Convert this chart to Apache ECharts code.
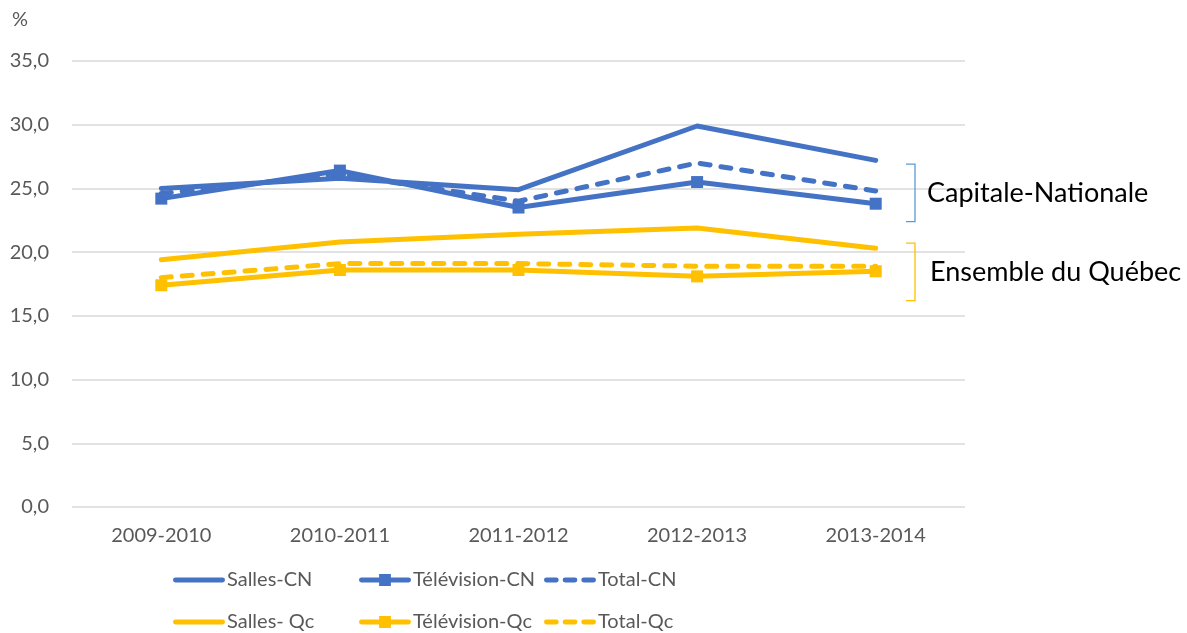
<!DOCTYPE html>
<html><head><meta charset="utf-8">
<script src="https://cdn.jsdelivr.net/npm/echarts@6/dist/echarts.min.js"></script>
<style>html,body{margin:0;padding:0;background:#fff}#c{width:1187px;height:633px}</style>
</head><body><div id="c"></div>
<script>
const categories = ['2009-2010', '2010-2011', '2011-2012', '2012-2013', '2013-2014'];
const sallesCN = [25.0, 25.8, 24.9, 29.9, 27.2];
const televisionCN = [24.2, 26.4, 23.5, 25.5, 23.8];
const totalCN = [24.6, 26.1, 24.0, 27.0, 24.8];
const sallesQc = [19.4, 20.8, 21.4, 21.9, 20.3];
const televisionQc = [17.4, 18.6, 18.6, 18.1, 18.5];
const totalQc = [18.0, 19.1, 19.1, 18.9, 18.9];
const legendRow1 = ['Salles-CN', 'Télévision-CN', 'Total-CN'];
const legendRow2 = ['Salles- Qc', 'Télévision-Qc', 'Total-Qc'];
const groupLabels = ['Capitale-Nationale', 'Ensemble du Québec'];
const groupRanges = [[22.4, 26.9], [16.2, 20.7]];

const BLUE = '#4472C4', YELLOW = '#FFC000';
const FONT = 'Lato';

function solid(name, data, color, marker) {
  return {
    name, type: 'line', data,
    symbol: marker ? 'rect' : 'none', symbolSize: 12, showSymbol: !!marker,
    itemStyle: { color },
    lineStyle: { color, width: 5, cap: 'round', join: 'round' },
    emphasis: { disabled: true }, animation: false
  };
}
function dashed(name, data, color) {
  return {
    name, type: 'line', data, symbol: 'none',
    itemStyle: { color },
    lineStyle: { color, width: 5, type: [10, 11], cap: 'round' },
    emphasis: { disabled: true }, animation: false
  };
}

// legend icons (52 x 14 box)
const ICON_LINE = 'path://M2,4.5 L50,4.5 A2.5,2.5 0 0 1 50,9.5 L2,9.5 A2.5,2.5 0 0 1 2,4.5 Z M0,0 L0.01,0 L0.01,0.01 Z M52,14 L51.99,14 L51.99,13.99 Z';
const ICON_MARK = 'path://M2,4.5 L20,4.5 L20,1 L32,1 L32,4.5 L50,4.5 A2.5,2.5 0 0 1 50,9.5 L32,9.5 L32,13 L20,13 L20,9.5 L2,9.5 A2.5,2.5 0 0 1 2,4.5 Z M0,0 L0.01,0 L0.01,0.01 Z M52,14 L51.99,14 L51.99,13.99 Z';
const ICON_DASH = 'path://M2,4.5 L12,4.5 A2.5,2.5 0 0 1 12,9.5 L2,9.5 A2.5,2.5 0 0 1 2,4.5 Z M21,4.5 L31,4.5 A2.5,2.5 0 0 1 31,9.5 L21,9.5 A2.5,2.5 0 0 1 21,4.5 Z M40,4.5 L50,4.5 A2.5,2.5 0 0 1 50,9.5 L40,9.5 A2.5,2.5 0 0 1 40,4.5 Z M0,0 L0.01,0 L0.01,0.01 Z M52,14 L51.99,14 L51.99,13.99 Z';
const icons = [ICON_LINE, ICON_MARK, ICON_DASH];
const legendLefts = [168, 354, 539];

const legends = [];
[legendRow1, legendRow2].forEach((row, r) => {
  row.forEach((name, i) => {
    legends.push({
      left: legendLefts[i], top: r ? 607 : 565,
      itemWidth: 52, itemHeight: 14, itemGap: 0,
      icon: icons[i],
      data: [{ name, icon: icons[i] }],
      textStyle: { fontFamily: FONT, fontSize: 20, color: '#595959', padding: [0, 0, 0, -3] },
      selectedMode: false
    });
  });
});

const chart = echarts.init(document.getElementById('c'));
chart.setOption({
  animation: false,
  grid: { left: 72, right: 222, top: 61, bottom: 126 },
  xAxis: {
    type: 'category', data: categories, boundaryGap: true,
    axisLine: { show: false }, axisTick: { show: false },
    axisLabel: { fontFamily: FONT, fontSize: 20, color: '#595959', margin: 19 }
  },
  yAxis: {
    type: 'value', min: 0, max: 35, interval: 5,
    axisLine: { show: false }, axisTick: { show: false },
    splitLine: { lineStyle: { color: '#d9d9d9', width: 1.5 } },
    axisLabel: {
      fontFamily: FONT, fontSize: 20, color: '#595959', margin: 23,
      formatter: v => v.toFixed(1).replace('.', ',')
    }
  },
  legend: legends,
  series: [
    solid('Salles-CN', sallesCN, BLUE, false),
    solid('Télévision-CN', televisionCN, BLUE, true),
    dashed('Total-CN', totalCN, BLUE),
    solid('Salles- Qc', sallesQc, YELLOW, false),
    solid('Télévision-Qc', televisionQc, YELLOW, true),
    dashed('Total-Qc', totalQc, YELLOW)
  ]
});

function drawAnnotations() {
  const colors = ['#5B9BD5', YELLOW];
  const elements = [{
    type: 'text', left: 12, top: 10,
    style: { text: '%', fontFamily: FONT, fontSize: 20, fill: '#595959' }
  }];
  groupRanges.forEach((r, i) => {
    const yTop = chart.convertToPixel({ yAxisIndex: 0 }, r[1]);
    const yBot = chart.convertToPixel({ yAxisIndex: 0 }, r[0]);
    const xb = 915;
    elements.push({
      type: 'polyline',
      shape: { points: [[xb - 9, yTop], [xb, yTop], [xb, yBot], [xb - 9, yBot]] },
      style: { stroke: colors[i], lineWidth: 1.3, fill: null }
    });
    elements.push({
      type: 'text', x: 927 + (i ? 3 : 0), y: (yTop + yBot) / 2,
      style: { text: groupLabels[i], fontFamily: FONT, fontSize: 27, fill: '#000', verticalAlign: 'middle' }
    });
  });
  chart.setOption({ graphic: elements });
}
drawAnnotations();
</script>
</body></html>
